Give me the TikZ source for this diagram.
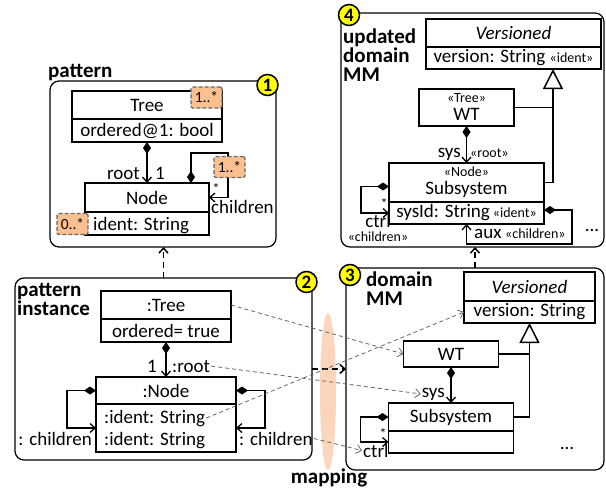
\documentclass[tikz,border=0pt]{standalone}
\usepackage{fontspec}
\setmainfont{Carlito}
\usetikzlibrary{positioning,shapes.geometric,arrows.meta}
\definecolor{tagorange}{RGB}{250,192,144}
\definecolor{mappeach}{RGB}{251,214,188}
\definecolor{numyellow}{RGB}{255,255,0}
\newcommand{\stype}[1]{{\fontsize{14}{16}\selectfont«#1»}}
\tikzset{
	frame/.style={draw, line width=1.2pt, rounded corners=9pt, inner sep=0pt, outer sep=0pt},
	cls/.style={draw, line width=1.5pt, outer sep=0pt, inner sep=1pt, fill=white, font=\fontsize{19}{18}\selectfont},
	txt/.style={font=\fontsize{19}{20}\selectfont, inner sep=1pt},
	sm/.style={font=\fontsize{14}{16}\selectfont, inner sep=0pt},
	lbl/.style={font=\fontsize{21}{19}\selectfont\bfseries, inner sep=0pt, align=left},
	tag/.style={draw=black!60, fill=tagorange, line width=1.3pt, dash pattern=on 4pt off 2pt, rounded corners=1.5pt, minimum width=31, minimum height=21, inner sep=0pt, font=\fontsize{15.5}{16}\selectfont},
	num/.style={circle, draw, line width=1.5pt, fill=numyellow, minimum size=21, inner sep=0pt, font=\fontsize{19}{19}\selectfont\bfseries},
	comp/.style={line width=1.3pt, {Diamond[length=12pt,width=8pt]}-{Straight Barb[length=5pt,width=9pt]}},
	gen/.style={line width=1.5pt, -{Triangle[open, length=20pt, width=20pt]}},
	assoc/.style={line width=1.5pt},
	map/.style={draw=black!60, line width=0.8pt, dash pattern=on 4pt off 3pt, -{Straight Barb[length=5pt,width=9pt]}},
	trace/.style={line width=1.5pt, dash pattern=on 6pt off 4pt, -{Straight Barb[length=5pt,width=9pt]}}
}
\begin{document}
\begin{tikzpicture}[x=1pt,y=-1pt]
		\useasboundingbox (0,0) rectangle (606,490);
		
		\node[frame, minimum width=226, minimum height=166] (pat) at (163,164) {};
		\node[frame, minimum width=297, minimum height=182] (inst) at (163.5,369) {};
		\node[frame, minimum width=263, minimum height=234] (upd) at (472.5,130) {};
		\node[frame, minimum width=258, minimum height=202] (dom) at (475,369) {};
		\node[ellipse, fill=mappeach, minimum width=16, minimum height=157, inner sep=0pt] (mapz) at (328,391.5) {};
		
		\node[lbl, anchor=base west] (patl) at (48,77) {pattern};
		\node[lbl, anchor=north west] (instl) at (17,283) {pattern\\instance};
		\node[lbl, anchor=north west] (updl) at (343,29) {updated\\domain\\MM};
		\node[lbl, anchor=north west] (doml) at (366,272) {domain\\MM};
		\node[lbl, anchor=base] (mapl) at (329,483) {mapping};
		
		\node[cls, minimum width=150, minimum height=28] (tree) at (147,105) {Tree};
		\node[cls, minimum width=150, minimum height=23, below=0pt of tree] (treeA) {ordered@1: bool};
		\node[cls, minimum width=124, minimum height=29] (nd) at (147,197.5) {Node};
		\node[cls, minimum width=124, minimum height=23, below=0pt of nd] (ndA) {};
		\node[txt, anchor=base west] (idl) at (92,230) {ident: String};
		\draw[comp] (treeA) -- (nd);
		\draw[comp] ([xshift=44pt]nd.north) -- ++(0,-30) -| ([xshift=19pt]nd.east) -- (nd.east);
		\node[txt, anchor=base east] (rootl) at (141,179) {root};
		\node[txt, anchor=base west] (onel) at (154,179) {1};
		\node[sm] (starl) at (216,189) {*};
		\node[txt, anchor=base west] (chl) at (210,213) {children};
		\node[tag] (t1) at (206.5,97.5) {1..*};
		\node[tag] (t2) at (229.5,167) {1..*};
		\node[tag] (t3) at (72.5,224) {0..*};
		
		\node[cls, minimum width=130, minimum height=28] (itree) at (166,305) {:Tree};
		\node[cls, minimum width=130, minimum height=23, below=0pt of itree] (itreeA) {ordered= true};
		\node[cls, minimum width=140, minimum height=27] (inode) at (166,390.5) {:Node};
		\node[cls, minimum width=140, minimum height=48, below=0pt of inode] (inodeA) {};
		\node[txt, anchor=base west] (id1) at (103,423) {:ident: String};
		\node[txt, anchor=base west] (id2) at (103,445) {:ident: String};
		\draw[comp] (itreeA) -- (inode);
		\node[txt, anchor=base east] (ione) at (158,372) {1};
		\node[txt, anchor=base west] (iroot) at (171,372) {:root};
		\draw[comp] (inode.west) -- ++(-29,0) |- (inodeA.west);
		\draw[comp] (inode.east) -- ++(29,0) |- (inodeA.east);
		\node[txt, anchor=base east] (ichl) at (93,445) {: children};
		\node[txt, anchor=base west] (ichr) at (238,445) {: children};
		
		\node[cls, minimum width=175, minimum height=28, font=\fontsize{19}{18}\selectfont\itshape] (ver4) at (513.5,33) {Versioned};
		\node[cls, minimum width=175, minimum height=22, below=0pt of ver4] (ver4A) {version: String \stype{ident}};
		\node[cls, minimum width=95, minimum height=37, align=center] (wt4) at (466.5,107.5) {\stype{Tree}\\WT};
		\node[cls, minimum width=155, minimum height=39, align=center] (sub4) at (466.5,182.5) {\stype{Node}\\Subsystem};
		\node[cls, minimum width=155, minimum height=22, below=0pt of sub4] (sub4A) {sysId: String\,\stype{ident}};
		\coordinate (inh4) at (553,107.5);
		\draw[gen] (sub4.east) -| (inh4 |- ver4A.south);
		\draw[assoc] (wt4.east) -- (wt4.east -| inh4);
		\draw[comp] (wt4) -- (sub4);
		\node[txt, anchor=base east] (sys4) at (462,157) {sys};
		\node[sm, anchor=base west] (root4) at (470,157) {«root»};
		\draw[comp] ([yshift=-4pt]sub4.west) -- ++(-28,0) |- (sub4A.west);
		\node[sm] (st4) at (384,204) {*};
		\node[txt, anchor=base] (ctrl4) at (378,227) {ctrl};
		\node[sm, anchor=base] (ch4) at (378,241) {«children»};
		\draw[comp] ([yshift=3pt]sub4A.east) -- ++(28,0) -- ++(0,34) -| (sub4A.south);
		\node[txt, anchor=base west] (aux4) at (473,238) {aux};
		\node[sm, anchor=base west] (ch4b) at (505,238) {«children»};
		\node[txt] (dots4) at (592,230) {...};
		
		\node[cls, minimum width=131, minimum height=29, font=\fontsize{19}{18}\selectfont\itshape] (ver3) at (529.5,286.5) {Versioned};
		\node[cls, minimum width=131, minimum height=22, below=0pt of ver3] (ver3A) {version: String};
		\node[cls, minimum width=95, minimum height=26] (wt3) at (451,354) {WT};
		\node[cls, minimum width=125, minimum height=28] (sub3) at (451,417) {Subsystem};
		\node[cls, minimum width=125, minimum height=22, below=0pt of sub3] (sub3A) {};
		\draw[gen] (sub3.east) -| (ver3A.south);
		\draw[assoc] (wt3.east) -- (wt3.east -| ver3A.south);
		\draw[comp] (wt3) -- (sub3);
		\node[txt, anchor=base east] (sys3) at (446,397) {sys};
		\draw[comp] (sub3.west) -- ++(-28,0) |- (sub3A.west);
		\node[sm] (st3) at (383,434) {*};
		\node[txt, anchor=base west] (ctrl3) at (362,457) {ctrl};
		\node[txt] (dots3) at (567,448) {...};
		
		\draw[trace] (inst.north) -- (inst.north |- pat.south);
		\draw[trace] (inst.east) -- (dom.west);
		\draw[trace] (dom.north) -- (dom.north |- upd.south);
		
		\draw[map] (itree.east) -- (wt3.west);
		\draw[map] (iroot.east) -- (sys3.west);
		\draw[map] (id1.east) -- (ver3A.west);
		\draw[map] (ichr.east) -- (ctrl3.west);
		
		\node[num] (c1) at (267.5,85) {1};
		\node[num] (c2) at (306.5,282) {2};
		\node[num] (c3) at (350,275) {3};
		\node[num] (c4) at (349,15) {4};
		\end{tikzpicture}
\end{document}
